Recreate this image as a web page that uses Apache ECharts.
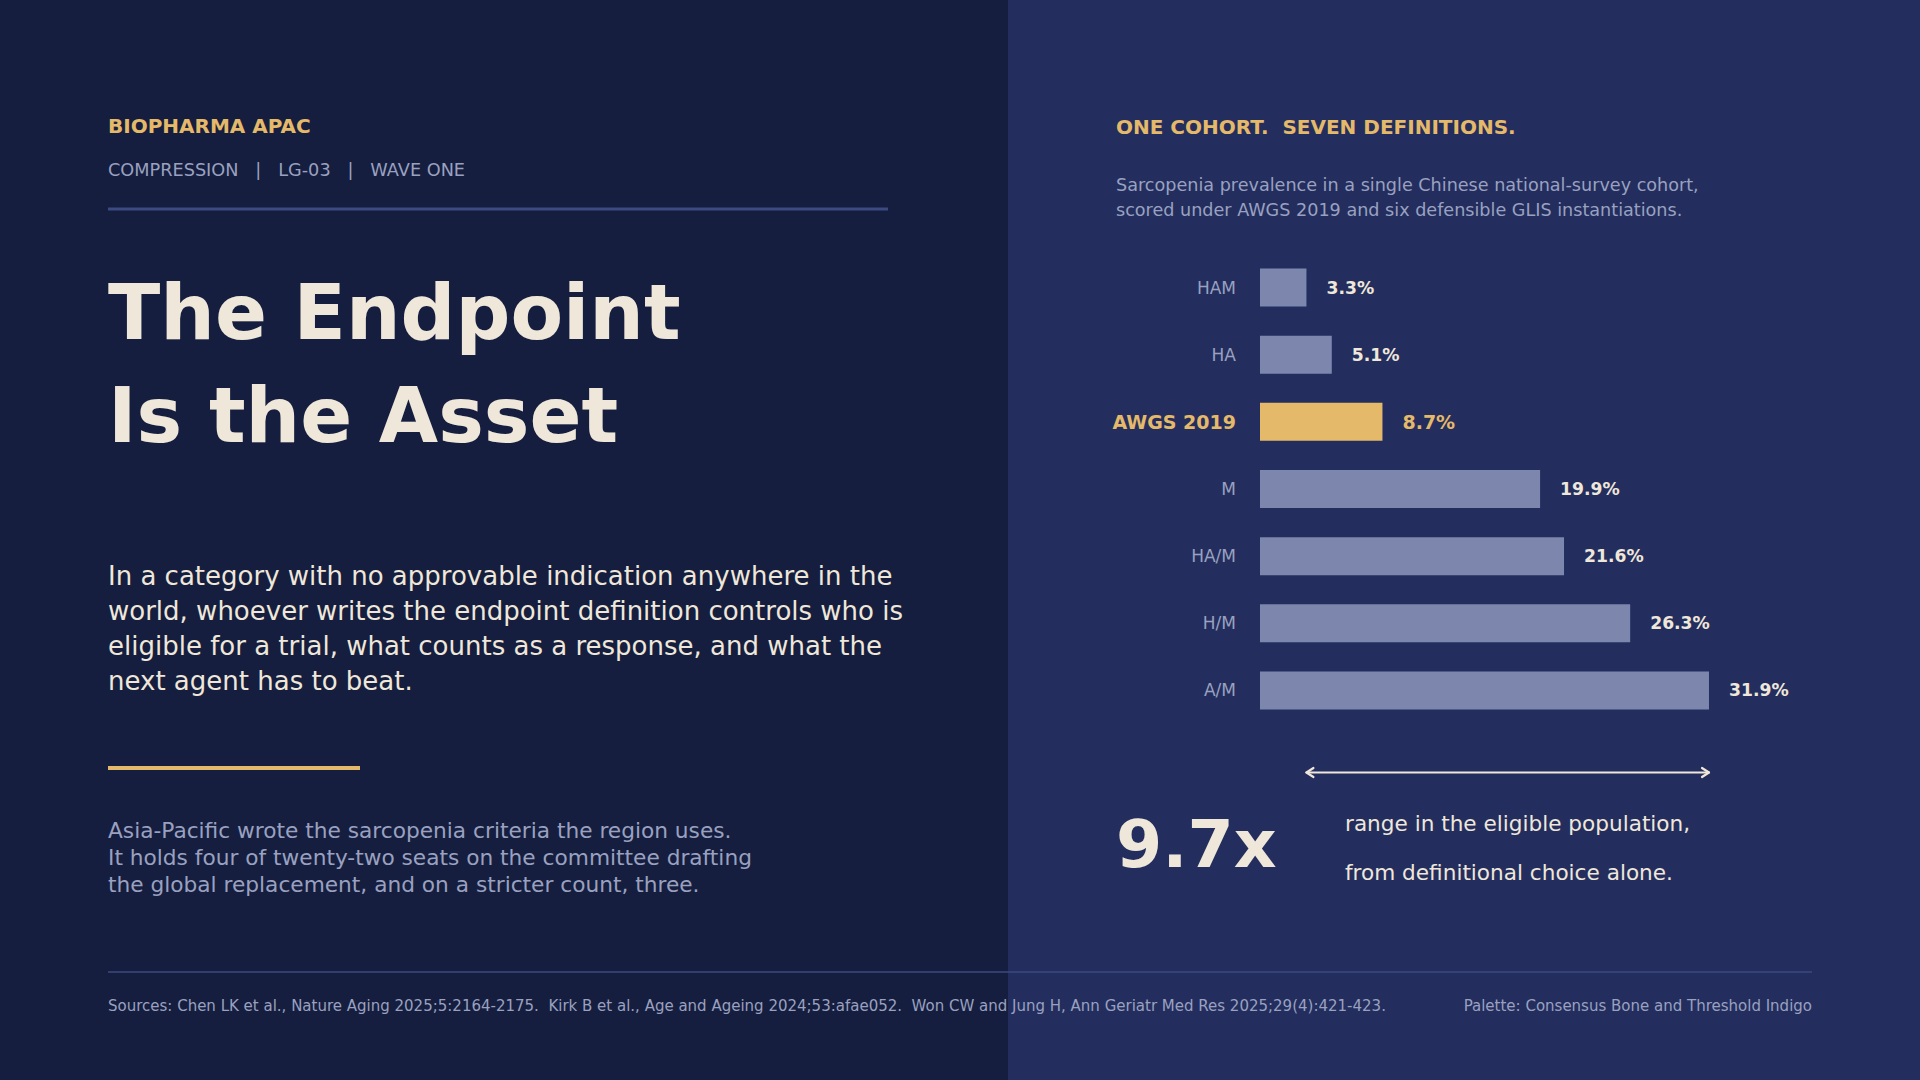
<!DOCTYPE html>
<html>
<head>
<meta charset="utf-8">
<title>The Endpoint Is the Asset</title>
<script src="https://cdn.jsdelivr.net/npm/echarts@6/dist/echarts.min.js"></script>
<style>
  html, body { margin: 0; padding: 0; background: #151e3e; }
  #chart { width: 1920px; height: 1080px; }
</style>
</head>
<body>
<div id="chart"></div>
<script>
// data
const definitions = ['HAM', 'HA', 'AWGS 2019', 'M', 'HA/M', 'H/M', 'A/M'];
const prevalence = [3.3, 5.1, 8.7, 19.9, 21.6, 26.3, 31.9];
const highlight = 'AWGS 2019';
const rangeLabel = '9.7x';

const FONT = '"DejaVu Sans", sans-serif';
const GOLD = '#e5b96a';
const CREAM = '#efe7da';
const GREY = '#9aa1c0';
const BAR = '#7d86ad';
const RULE = '#3b4a80';

// text placed by its baseline
function txt(x, base, s, size, color, opts) {
  opts = opts || {};
  return {
    type: 'text',
    x: x,
    y: base - size * 0.36,
    style: {
      text: s,
      fill: color,
      font: (opts.bold ? 'bold ' : '') + size + 'px ' + FONT,
      align: opts.align || 'left',
      verticalAlign: 'middle'
    },
    z: 10
  };
}
function rule(x1, x2, y, w, color) {
  return {
    type: 'line',
    shape: { x1: x1, y1: y, x2: x2, y2: y },
    style: { stroke: color, lineWidth: w },
    z: 5
  };
}

const chart = echarts.init(document.getElementById('chart'), null, { renderer: 'svg' });

const lo = Math.min(...prevalence);
const hi = Math.max(...prevalence);

const graphics = [
  { type: 'rect', shape: { x: 0, y: 0, width: 1008, height: 1080 }, style: { fill: '#151e3e' }, z: 0 },
  { type: 'rect', shape: { x: 1008, y: 0, width: 912, height: 1080 }, style: { fill: '#232e5e' }, z: 0 },

  txt(108, 133, 'BIOPHARMA APAC', 20, GOLD, { bold: true }),
  txt(108, 176, 'COMPRESSION   |   LG-03   |   WAVE ONE', 17.7, GREY),
  rule(108, 888, 209, 3, RULE),

  txt(108, 340, 'The Endpoint', 76.7, CREAM, { bold: true }),
  txt(108, 443, 'Is the Asset', 76.7, CREAM, { bold: true }),

  txt(108, 585, 'In a category with no approvable indication anywhere in the', 26, CREAM),
  txt(108, 620, 'world, whoever writes the endpoint definition controls who is', 26, CREAM),
  txt(108, 655, 'eligible for a trial, what counts as a response, and what the', 26, CREAM),
  txt(108, 690, 'next agent has to beat.', 26, CREAM),

  rule(108, 360, 768, 4, GOLD),

  txt(108, 838, 'Asia-Pacific wrote the sarcopenia criteria the region uses.', 21.7, GREY),
  txt(108, 865, 'It holds four of twenty-two seats on the committee drafting', 21.7, GREY),
  txt(108, 892, 'the global replacement, and on a stricter count, three.', 21.7, GREY),

  txt(1116, 134, 'ONE COHORT.  SEVEN DEFINITIONS.', 20, GOLD, { bold: true }),
  txt(1116, 191, 'Sarcopenia prevalence in a single Chinese national-survey cohort,', 17.6, GREY),
  txt(1116, 216, 'scored under AWGS 2019 and six defensible GLIS instantiations.', 17.6, GREY),

  txt(1116, 868, rangeLabel, 66.5, CREAM, { bold: true }),
  txt(1345, 831, 'range in the eligible population,', 21.6, CREAM),
  txt(1345, 880, 'from definitional choice alone.', 21.6, CREAM),

  rule(108, 1812, 972, 1.5, RULE),
  txt(108, 1011, 'Sources: Chen LK et al., Nature Aging 2025;5:2164-2175.  Kirk B et al., Age and Ageing 2024;53:afae052.  Won CW and Jung H, Ann Geriatr Med Res 2025;29(4):421-423.', 15, GREY),
  txt(1812, 1011, 'Palette: Consensus Bone and Threshold Indigo', 15, GREY, { align: 'right' })
];

const SCALE_MAX = 35;

chart.setOption({
  animation: false,
  backgroundColor: 'transparent',
  graphic: graphics,
  grid: [
    { left: 1260, top: 254, width: 14.075 * SCALE_MAX, height: 470, containLabel: false },
    { left: 1260, top: 772, width: 14.075 * SCALE_MAX, height: 1, containLabel: false }
  ],
  xAxis: [
    { type: 'value', gridIndex: 0, min: 0, max: SCALE_MAX, show: false },
    { type: 'value', gridIndex: 1, min: 0, max: SCALE_MAX, show: false }
  ],
  yAxis: [
    {
      type: 'category',
      gridIndex: 0,
      data: definitions,
      inverse: true,
      axisLine: { show: false },
      axisTick: { show: false },
      splitLine: { show: false },
      axisLabel: {
        margin: 24,
        fontFamily: FONT,
        fontSize: 17,
        color: GREY,
        formatter: v => v === highlight ? '{hl|' + v + '}' : v,
        rich: {
          hl: { fontFamily: FONT, fontSize: 19, fontWeight: 'bold', color: GOLD }
        }
      }
    },
    { type: 'value', gridIndex: 1, min: 0, max: 1, show: false }
  ],
  series: [
    {
      type: 'bar',
      xAxisIndex: 0,
      yAxisIndex: 0,
      barWidth: 38,
      data: prevalence.map((v, i) => ({
        value: v,
        itemStyle: { color: definitions[i] === highlight ? GOLD : BAR },
        label: definitions[i] === highlight
          ? { color: GOLD, fontSize: 19 }
          : { color: CREAM, fontSize: 17.2 }
      })),
      label: {
        show: true,
        position: 'right',
        distance: 20,
        fontFamily: FONT,
        fontWeight: 'bold',
        formatter: p => p.value.toFixed(1) + '%'
      },
      silent: true
    }
  ]
});

// range arrow between the smallest and largest prevalence, placed through the x scale
const a = chart.convertToPixel({ gridIndex: 1 }, [lo, 0.5]);
const b = chart.convertToPixel({ gridIndex: 1 }, [hi, 0.5]);
const stroke = { stroke: CREAM, lineWidth: 2.2, fill: null, lineCap: 'round', lineJoin: 'round' };
chart.setOption({
  graphic: graphics.concat([
    { type: 'line', shape: { x1: a[0], y1: a[1], x2: b[0], y2: b[1] }, style: stroke, z: 20 },
    { type: 'polyline', shape: { points: [[a[0] + 7, a[1] - 4.5], [a[0], a[1]], [a[0] + 7, a[1] + 4.5]] }, style: stroke, z: 20 },
    { type: 'polyline', shape: { points: [[b[0] - 7, b[1] - 4.5], [b[0], b[1]], [b[0] - 7, b[1] + 4.5]] }, style: stroke, z: 20 }
  ])
});
</script>
</body>
</html>
